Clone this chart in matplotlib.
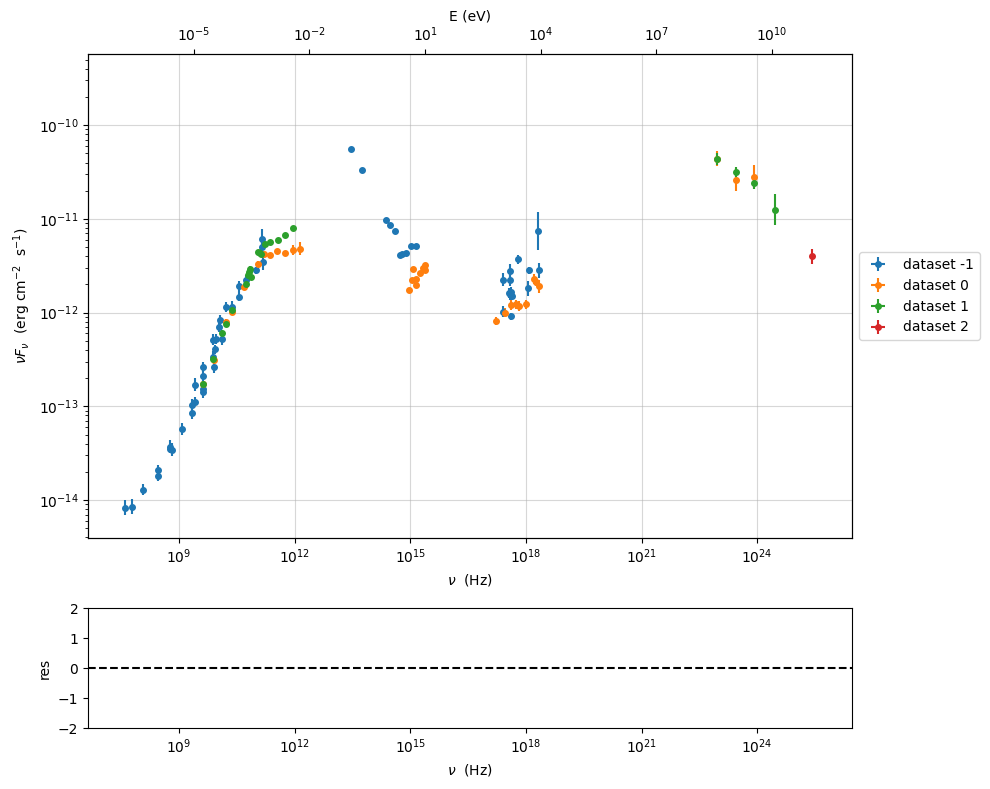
import numpy as np
import matplotlib
matplotlib.use("Agg")
import matplotlib.pyplot as plt

# log10(nu/Hz), log10(nuFnu / erg cm^-2 s^-1), error in dex
ds_m1_lognu = [7.60, 7.79, 8.07, 8.46, 8.46, 8.78, 8.81, 8.76, 9.09, 9.35, 9.41, 9.35, 9.41,
               9.63, 9.63, 9.63, 9.63, 9.87, 9.91, 9.93, 9.89, 9.96, 10.04, 10.06, 10.11,
               10.22, 10.37, 10.56, 10.56, 10.74, 11.01, 11.18, 11.16, 11.16,
               13.45, 13.75, 14.37, 14.47, 14.61, 14.73, 14.79, 14.88, 15.01, 15.16,
               17.40, 17.60, 17.60, 17.79, 17.58, 17.62, 17.55, 17.65, 18.05, 18.08,
               18.35, 18.31, 17.40, 17.62]
ds_m1_logf = [-14.08, -14.07, -13.89, -13.68, -13.74, -13.43, -13.46, -13.45, -13.24, -12.98,
              -12.95, -13.07, -12.77, -12.58, -12.68, -12.81, -12.85, -12.47, -12.58, -12.39,
              -12.29, -12.28, -12.15, -12.08, -12.28, -11.94, -11.94, -11.83, -11.72, -11.65,
              -11.55, -11.46, -11.30, -11.21,
              -10.25, -10.48, -11.01, -11.07, -11.13, -11.39, -11.37, -11.36, -11.29, -11.29,
              -11.65, -11.56, -11.65, -11.43, -11.80, -11.78, -11.79, -11.82, -11.74, -11.55,
              -11.55, -11.13, -11.99, -12.04]
ds_m1_err = [0.08, 0.08, 0.06, 0.06, 0.06, 0.07, 0.07, 0.05, 0.06, 0.06, 0.05, 0.06, 0.07,
             0.05, 0.06, 0.05, 0.06, 0.06, 0.06, 0.05, 0.06, 0.05, 0.06, 0.06, 0.06,
             0.05, 0.06, 0.05, 0.06, 0.05, 0.04, 0.08, 0.06, 0.10,
             0.01, 0.01, 0.01, 0.01, 0.01, 0.01, 0.01, 0.01, 0.01, 0.01,
             0.07, 0.08, 0.07, 0.05, 0.06, 0.05, 0.05, 0.05, 0.08, 0.04, 0.08, 0.20, 0.06, 0.04]

ds_0_lognu = [9.63, 9.90, 10.22, 10.38, 10.68, 11.05, 11.20, 11.36, 11.55, 11.76, 11.95, 12.15,
              15.07, 15.37, 15.37, 15.24, 15.14, 15.05, 15.16, 14.97, 15.33,
              17.23, 17.45, 17.62, 17.74, 17.83, 18.00, 18.20, 18.26, 18.33,
              22.95, 23.44, 23.93]
ds_0_logf = [-12.76, -12.50, -12.10, -11.99, -11.73, -11.48, -11.37, -11.38, -11.34, -11.36,
             -11.33, -11.32,
             -11.53, -11.49, -11.55, -11.58, -11.64, -11.65, -11.71, -11.76, -11.52,
             -12.09, -12.00, -11.92, -11.91, -11.93, -11.91, -11.64, -11.67, -11.72,
             -10.36, -10.58, -10.55]
ds_0_err = [0.03, 0.03, 0.03, 0.03, 0.03, 0.03, 0.02, 0.02, 0.02, 0.02, 0.05, 0.07,
            0.01, 0.01, 0.01, 0.01, 0.01, 0.01, 0.01, 0.01, 0.01,
            0.04, 0.05, 0.05, 0.05, 0.05, 0.05, 0.05, 0.05, 0.07,
            0.08, 0.12, 0.13]

ds_1_lognu = [9.63, 9.89, 10.12, 10.22, 10.38, 10.75, 10.78, 10.84, 10.82, 10.88, 11.10,
              11.05, 11.14, 11.23, 11.37, 11.56, 11.76, 11.95,
              22.95, 23.44, 23.93, 24.45]
ds_1_logf = [-12.76, -12.49, -12.22, -12.12, -11.97, -11.69, -11.60, -11.53, -11.57, -11.62,
             -11.36, -11.35, -11.37, -11.27, -11.25, -11.22, -11.17, -11.10,
             -10.36, -10.50, -10.62, -10.90]
ds_1_err = [0.03, 0.03, 0.03, 0.03, 0.03, 0.03, 0.03, 0.03, 0.03, 0.03, 0.02,
            0.02, 0.02, 0.02, 0.02, 0.02, 0.02, 0.02,
            0.06, 0.05, 0.06, 0.17]

ds_2_lognu = [25.43]
ds_2_logf = [-11.40]
ds_2_err = [0.08]

datasets = [
    ("dataset -1", ds_m1_lognu, ds_m1_logf, ds_m1_err),
    ("dataset 0", ds_0_lognu, ds_0_logf, ds_0_err),
    ("dataset 1", ds_1_lognu, ds_1_logf, ds_1_err),
    ("dataset 2", ds_2_lognu, ds_2_logf, ds_2_err),
]

H_EV = 4.135667696e-15
XLIM = (10**6.64, 10**26.46)
YLIM = (10**-14.405, 10**-9.24)

fig = plt.figure(figsize=(9.9, 7.89), dpi=100)
ax = fig.add_axes([0.0889, 0.318, 0.7717, 0.6136])
axr = fig.add_axes([0.0889, 0.0773, 0.7717, 0.1521])

for label, lnu, lf, err in datasets:
    nu = 10**np.array(lnu)
    f = 10**np.array(lf)
    e = np.array(err)
    ylo = f - 10**(np.array(lf) - e)
    yhi = 10**(np.array(lf) + e) - f
    ax.errorbar(nu, f, yerr=[ylo, yhi], xerr=np.zeros_like(nu), fmt='o', ms=4,
                label=label)

ax.set_xscale('log')
ax.set_yscale('log')
ax.set_xlim(*XLIM)
ax.set_ylim(*YLIM)
ax.grid(True, alpha=0.5)
ax.set_xlabel(r'$\nu$  (Hz)')
ax.set_ylabel(r'$\nu F_{\nu}$  (erg cm$^{-2}$  s$^{-1}$)')
ax.legend(loc='center left', bbox_to_anchor=(1.0, 0.5))

axt = ax.twiny()
axt.set_xscale('log')
axt.set_xlim(XLIM[0] * H_EV, XLIM[1] * H_EV)
axt.set_xlabel('E (eV)')

axr.set_xscale('log')
axr.set_xlim(*XLIM)
axr.set_ylim(-2, 2)
axr.axhline(0, color='k', ls='--')
axr.set_ylabel('res')
axr.set_xlabel(r'$\nu$  (Hz)')

fig.savefig('out.png', dpi=100)
